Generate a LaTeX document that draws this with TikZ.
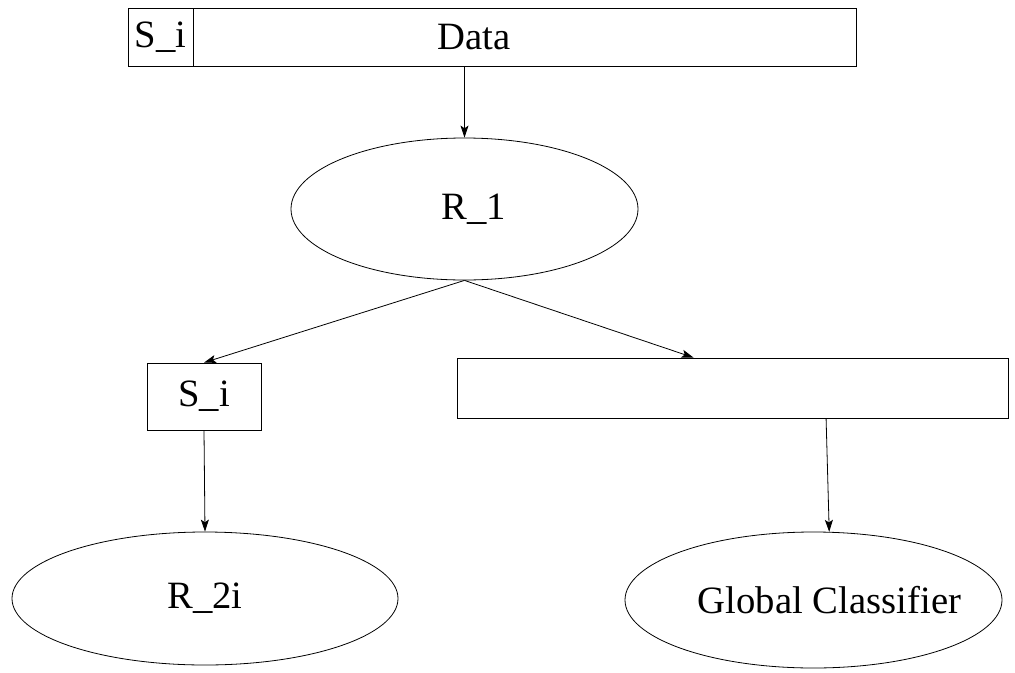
\documentclass[tikz,border=0pt]{standalone}
\usepackage{fontspec}
\setmainfont{Liberation Serif}
\usepackage{tikz}
\usetikzlibrary{arrows.meta,shapes.geometric}

\begin{document}
\begin{tikzpicture}[
  x=0.75pt, y=-0.75pt,
  every node/.style={font=\fontsize{29}{33}\selectfont},
  every label/.style={font=\fontsize{29}{33}\selectfont},
  box/.style={draw, line width=0.6pt, rectangle, inner sep=0pt},
  oval/.style={draw, line width=0.6pt, ellipse, inner sep=0pt},
  arrow/.style={-{Stealth[length=9pt,width=6pt,inset=2pt]}, line width=0.6pt}
]
\useasboundingbox (0,0) rectangle (1015,672);
% top record
\node[box, minimum width=48.75pt, minimum height=43.5pt] (key) at (160.5,37) {S\_i};
\node[box, minimum width=497.25pt, minimum height=43.5pt,
  label={[xshift=-38pt]center:Data}] (data) at (524.5,37) {};
% first level
\node[oval, minimum width=260.25pt, minimum height=106.5pt,
  label={[xshift=7pt]center:R\_1}] (r1) at (464.5,209) {};
\node[box, minimum width=85.5pt, minimum height=50.25pt] (si) at (204,396.5) {S\_i};
\node[box, minimum width=413.25pt, minimum height=45pt] (rest) at (732.5,388) {};
% second level
\node[oval, minimum width=289.5pt, minimum height=99.75pt] (r2) at (205,598.5) {R\_2i};
\node[oval, minimum width=282.75pt, minimum height=102pt,
  label={[xshift=12pt]center:Global Classifier}] (gc) at (813.5,600) {};
\draw[arrow] (r1.north |- data.south) -- (r1);
\draw[arrow] (r1.south) -- (si.north);
\draw[arrow] (r1.south) -- (rest.142);
\draw[arrow] (si.south) -- (r2.north);
\draw[arrow] (rest.-18) -- (gc.77);
\end{tikzpicture}
\end{document}
